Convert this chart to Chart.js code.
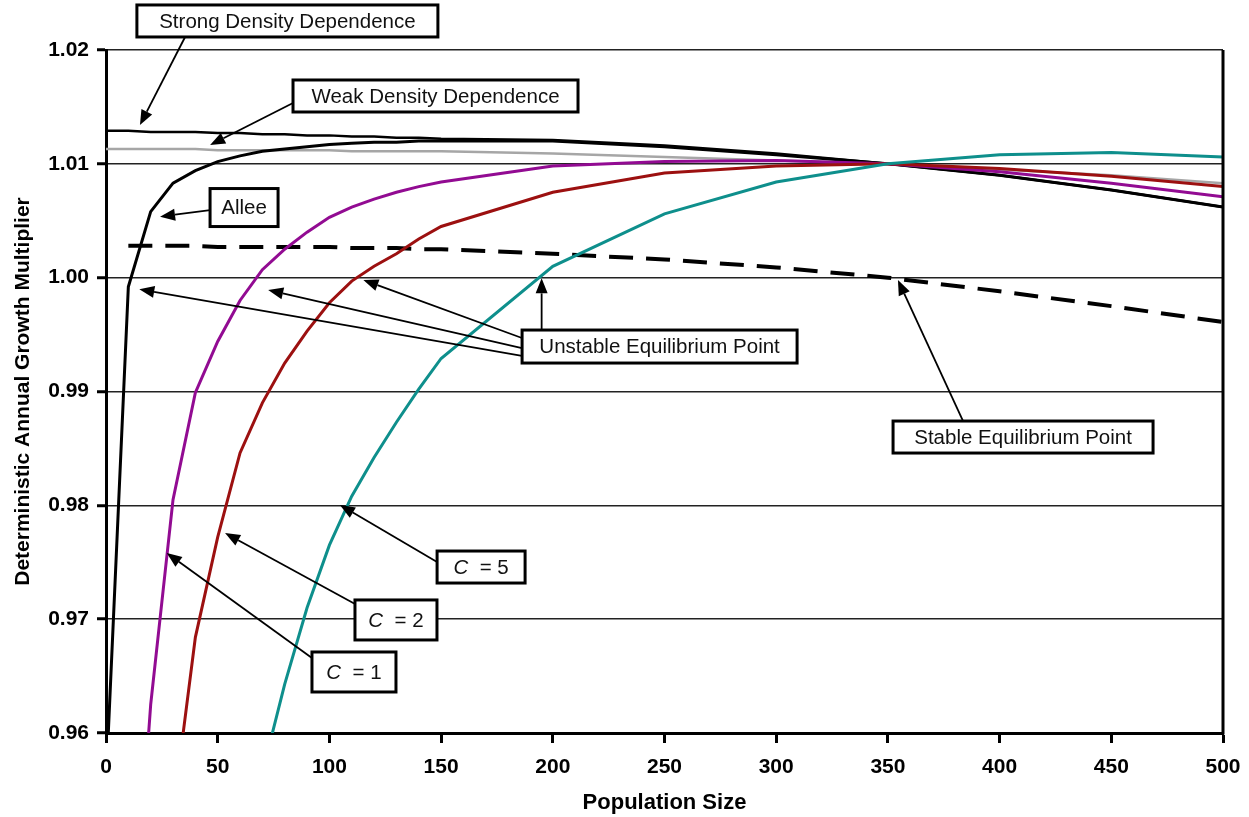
<!DOCTYPE html>
<html>
<head>
<meta charset="utf-8">
<script src="https://cdn.jsdelivr.net/npm/chart.js@4.4.1/dist/chart.umd.min.js"></script>
<style>
  html, body { margin: 0; padding: 0; background: #fff; }
  #wrap { width: 1249px; height: 817px; }
</style>
</head>
<body>
<div id="wrap"><canvas id="chart" width="1249" height="817"></canvas></div>
<script>
// population sizes (x) shared by every curve
const popSize = [0, 10, 20, 30, 40, 50, 60, 70, 80, 90, 100, 110, 120, 130, 140, 150, 200, 250, 300, 350, 400, 450, 500];

// growth multipliers (null = not drawn)
const strongDD = [1.0129, 1.0129, 1.0128, 1.0128, 1.0128, 1.0127, 1.0127, 1.0126, 1.0126, 1.0125, 1.0125, 1.0124, 1.0124, 1.0123, 1.0123, 1.0122, 1.0121, 1.0116, 1.0109, 1.0100, 1.0090, 1.0077, 1.0062];
const weakDD   = [1.0113, 1.0113, 1.0113, 1.0113, 1.0113, 1.0112, 1.0112, 1.0112, 1.0112, 1.0112, 1.0112, 1.0111, 1.0111, 1.0111, 1.0111, 1.0111, 1.0109, 1.0106, 1.0103, 1.0100, 1.0095, 1.0090, 1.0083];
const allee    = [0.9555, 0.9992, 1.0058, 1.0083, 1.0094, 1.0102, 1.0107, 1.0111, 1.0113, 1.0115, 1.0117, 1.0118, 1.0119, 1.0119, 1.0120, 1.0120, 1.0120, 1.0115, 1.0108, 1.0100, 1.0090, 1.0077, 1.0062];
const stableDD = [null, 1.0028, 1.0028, 1.0028, 1.0028, 1.0027, 1.0027, 1.0027, 1.0027, 1.0027, 1.0027, 1.0026, 1.0026, 1.0026, 1.0025, 1.0025, 1.0021, 1.0016, 1.0009, 1.0000, 0.9988, 0.9975, 0.9961];
const c1       = [null, 0.9350, 0.9625, 0.9805, 0.9899, 0.9944, 0.9980, 1.0007, 1.0025, 1.0040, 1.0053, 1.0062, 1.0069, 1.0075, 1.0080, 1.0084, 1.0098, 1.0102, 1.0103, 1.0100, 1.0093, 1.0083, 1.0071];
const c2       = [null, null, null, 0.9530, 0.9684, 0.9772, 0.9846, 0.9890, 0.9925, 0.9953, 0.9978, 0.9997, 1.0010, 1.0021, 1.0034, 1.0045, 1.0075, 1.0092, 1.0098, 1.0100, 1.0096, 1.0089, 1.0080];
const c5       = [null, null, null, null, null, null, null, 0.9565, 0.9643, 0.9710, 0.9765, 0.9808, 0.9842, 0.9873, 0.9902, 0.9929, 1.0010, 1.0056, 1.0084, 1.0100, 1.0108, 1.0110, 1.0106];

// axis ticks
const xTicks = [0, 50, 100, 150, 200, 250, 300, 350, 400, 450, 500];
const yTicks = [0.96, 0.97, 0.98, 0.99, 1.00, 1.01, 1.02];

const pts = vals => popSize.map((p, i) => ({ x: p, y: vals[i] }));

// callout boxes: centre in data units, box size in px, arrows [from, to] in data units
const notes = [
  { parts: [['Strong Density Dependence']], at: [81.2, 1.02255], w: 301, h: 32,
    arrows: [[[35.4, 1.02114], [15.2, 1.01341]]] },
  { parts: [['Weak Density Dependence']], at: [147.5, 1.01596], w: 285, h: 32,
    arrows: [[[83.7, 1.01534], [46.6, 1.01165]]] },
  { parts: [['Allee']], at: [61.8, 1.00616], w: 68, h: 38,
    arrows: [[[46.6, 1.00594], [24.2, 1.00536]]] },
  { parts: [['Unstable Equilibrium Point']], at: [247.8, 0.99395], w: 275, h: 33,
    arrows: [
      [[186.2, 0.99470], [115.2, 0.99979]],
      [[186.2, 0.99382], [72.6, 0.99892]],
      [[186.2, 0.99312], [14.9, 0.99898]],
      [[195.0, 0.99540], [195.0, 0.99994]]
    ] },
  { parts: [['Stable Equilibrium Point']], at: [410.5, 0.98600], w: 260, h: 32,
    arrows: [[[383.6, 0.98741], [354.5, 0.99979]]] },
  { parts: [['C', true], ['  = 5']], at: [167.9, 0.97458], w: 88, h: 32,
    arrows: [[[148.2, 0.97502], [104.7, 0.98003]]] },
  { parts: [['C', true], ['  = 2']], at: [129.8, 0.96993], w: 82, h: 40,
    arrows: [[[111.5, 0.97133], [53.3, 0.97757]]] },
  { parts: [['C', true], ['  = 1']], at: [111.0, 0.96536], w: 84, h: 40,
    arrows: [[[92.2, 0.96659], [27.2, 0.97581]]] }
];

const FONT = '"Liberation Sans", Arial, Helvetica, sans-serif';

const frame = {
  id: 'frame',
  afterDatasetsDraw(chart) {
    const { ctx, chartArea: a } = chart;
    ctx.save();
    ctx.strokeStyle = '#000';
    ctx.lineWidth = 3;
    ctx.beginPath();
    ctx.moveTo(a.right, a.top);
    ctx.lineTo(a.right, a.bottom + 1.5);
    ctx.stroke();
    ctx.restore();
  }
};

const callouts = {
  id: 'callouts',
  afterDraw(chart) {
    const { ctx, scales: { x, y } } = chart;
    const px = p => [x.getPixelForValue(p[0]), y.getPixelForValue(p[1])];
    ctx.save();
    ctx.strokeStyle = '#000';
    ctx.fillStyle = '#000';
    ctx.lineWidth = 1.8;
    notes.forEach(n => n.arrows.forEach(([from, to]) => {
      const [x0, y0] = px(from), [x1, y1] = px(to);
      const a = Math.atan2(y1 - y0, x1 - x0);
      const L = 15, W = 6;
      const bx = x1 - L * Math.cos(a), by = y1 - L * Math.sin(a);
      ctx.beginPath(); ctx.moveTo(x0, y0); ctx.lineTo(bx, by); ctx.stroke();
      ctx.beginPath();
      ctx.moveTo(x1, y1);
      ctx.lineTo(bx + W * Math.sin(a), by - W * Math.cos(a));
      ctx.lineTo(bx - W * Math.sin(a), by + W * Math.cos(a));
      ctx.closePath(); ctx.fill();
    }));
    notes.forEach(n => {
      const [cx, cy] = px(n.at);
      ctx.fillStyle = '#fff';
      ctx.fillRect(cx - n.w / 2, cy - n.h / 2, n.w, n.h);
      ctx.lineWidth = 3;
      ctx.strokeStyle = '#000';
      ctx.strokeRect(cx - n.w / 2, cy - n.h / 2, n.w, n.h);
      const fonts = n.parts.map(([t, it]) => (it ? 'italic ' : '') + '20.5px ' + FONT);
      let total = 0;
      const ws = n.parts.map(([t], i) => { ctx.font = fonts[i]; const w = ctx.measureText(t).width; total += w; return w; });
      let tx = cx - total / 2;
      ctx.fillStyle = '#111';
      ctx.textBaseline = 'middle';
      ctx.textAlign = 'left';
      n.parts.forEach(([t], i) => { ctx.font = fonts[i]; ctx.fillText(t, tx, cy + 1); tx += ws[i]; });
    });
    ctx.restore();
  }
};

const line = (data, color, width, extra) => Object.assign({
  data: pts(data), borderColor: color, borderWidth: width,
  pointRadius: 0, tension: 0, fill: false, spanGaps: false, clip: 0
}, extra || {});

new Chart(document.getElementById('chart').getContext('2d'), {
  type: 'line',
  data: {
    datasets: [
      line(c5, '#0e8f8c', 3),
      line(c2, '#9c1010', 3),
      line(c1, '#920b92', 3),
      line(stableDD, '#000', 4, { borderDash: [24, 13] }),
      line(allee, '#000', 3),
      line(strongDD, '#000', 2.5),
      line(weakDD, '#a6a6a6', 2.5)
    ]
  },
  options: {
    responsive: false,
    animation: false,
    devicePixelRatio: 1,
    layout: { padding: { top: 50, right: 26, left: 0, bottom: 0 } },
    plugins: { legend: { display: false }, tooltip: { enabled: false } },
    scales: {
      x: {
        type: 'linear', min: 0, max: 500,
        afterBuildTicks: s => { s.ticks = xTicks.map(v => ({ value: v })); },
        afterFit: s => { s.height = 84; s.paddingRight = 0; s.paddingLeft = 0; },
        ticks: { color: '#000', font: { family: FONT, size: 21, weight: 'bold' }, padding: 12, maxRotation: 0 },
        grid: { drawOnChartArea: false, drawTicks: true, tickLength: 10, tickWidth: 3, tickColor: '#000' },
        border: { color: '#000', width: 3 },
        title: { display: true, text: 'Population Size', color: '#000',
                 font: { family: FONT, size: 22, weight: 'bold' }, padding: { top: 0, bottom: 1 } }
      },
      y: {
        min: 0.96, max: 1.02,
        afterBuildTicks: s => { s.ticks = yTicks.map(v => ({ value: v })); },
        afterFit: s => { s.width = 106; },
        ticks: { color: '#000', font: { family: FONT, size: 21, weight: 'bold' }, padding: 8,
                 callback: v => Number(v).toFixed(2) },
        grid: { color: '#222', lineWidth: 1.5, tickLength: 9, tickWidth: 3, tickColor: '#000' },
        border: { color: '#000', width: 3 },
        title: { display: true, text: 'Deterministic Annual Growth Multiplier', color: '#000',
                 font: { family: FONT, size: 21, weight: 'bold' }, padding: { top: 11, bottom: 0 } }
      }
    }
  },
  plugins: [frame, callouts]
});
</script>
</body>
</html>
